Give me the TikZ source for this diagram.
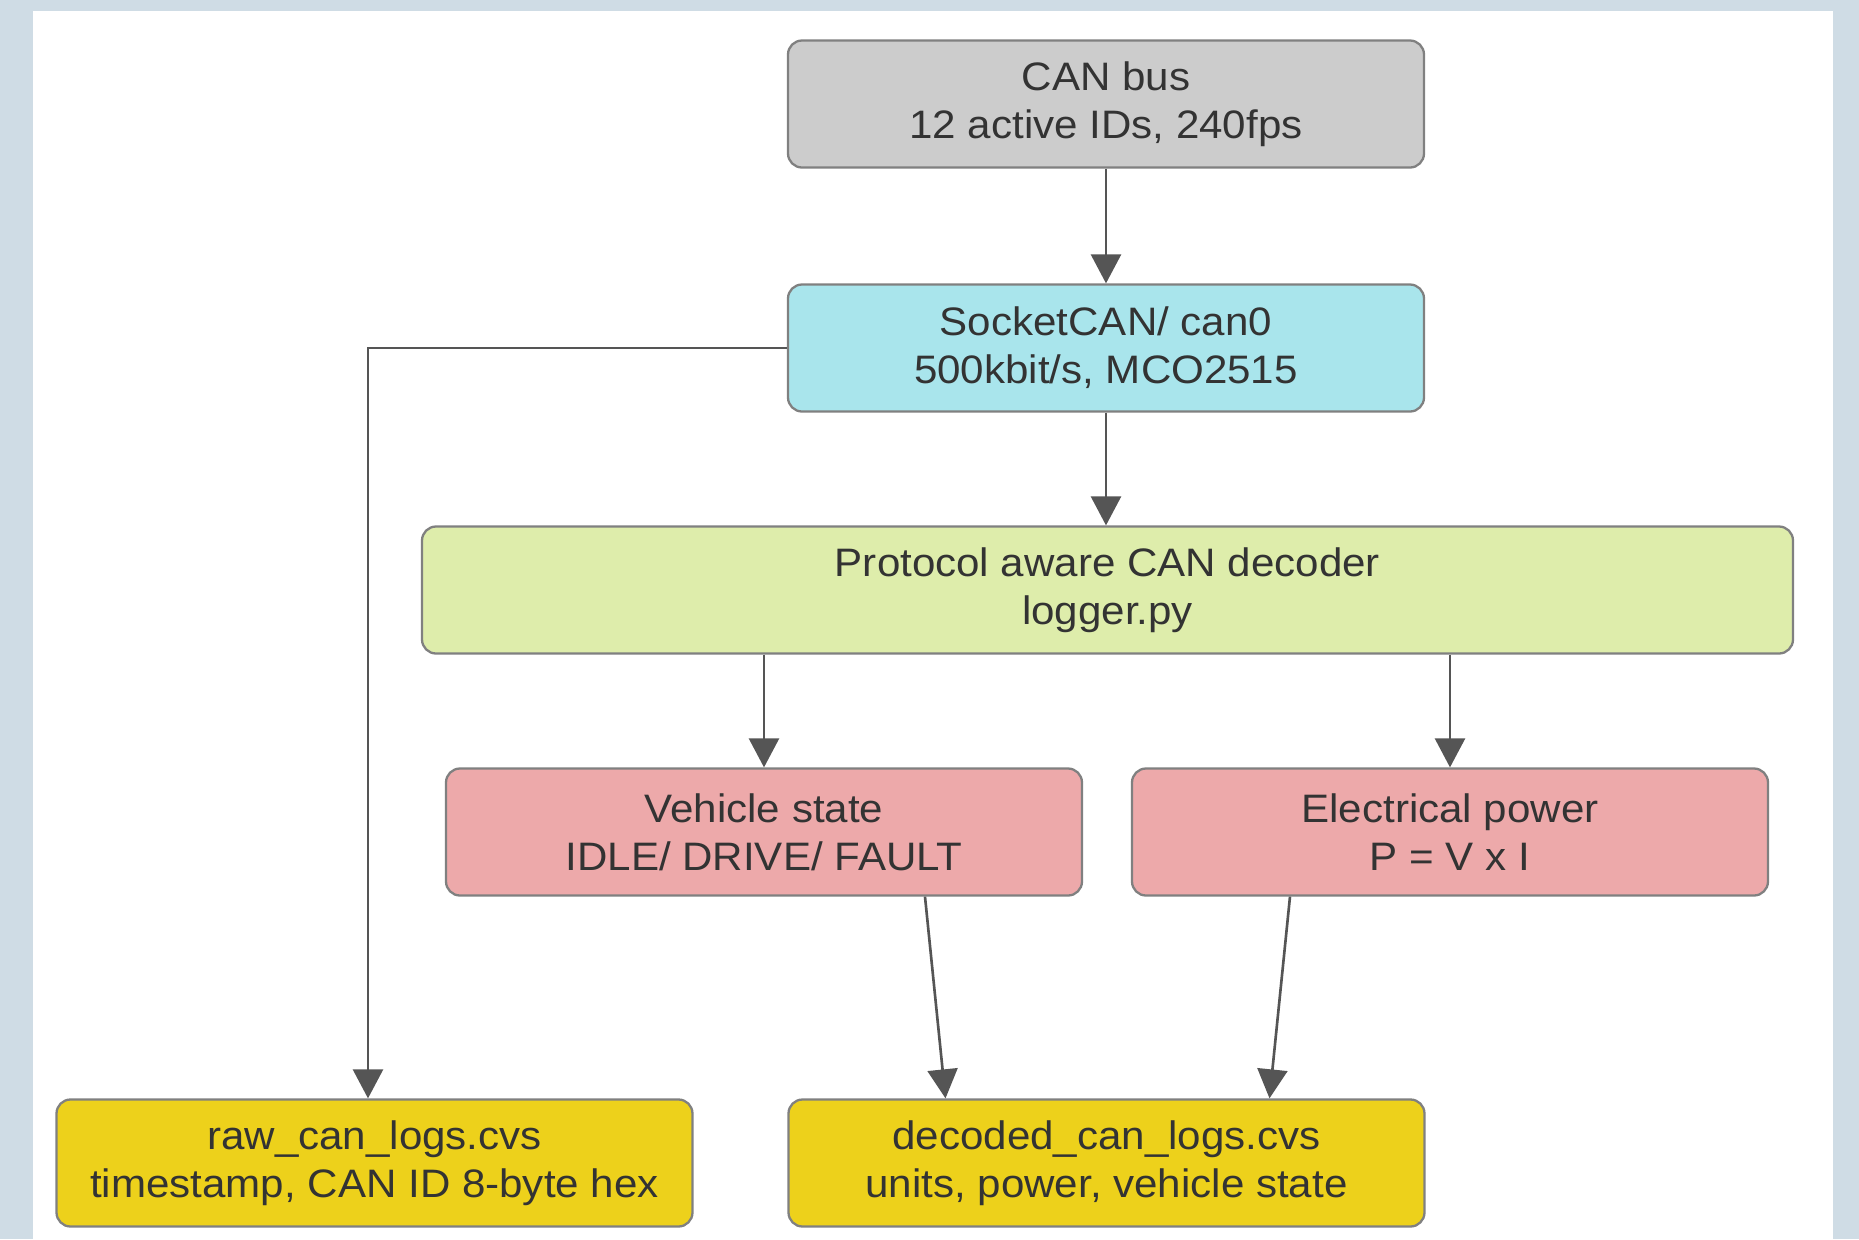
\documentclass[tikz,border=0pt]{standalone}
\usepackage{fontspec}
\setmainfont[FakeStretch=1.06]{Liberation Sans}
\usetikzlibrary{arrows.meta}

\definecolor{pagebg}{HTML}{CFDCE5}
\definecolor{busgray}{HTML}{CCCCCC}
\definecolor{sockcyan}{HTML}{A9E5EC}
\definecolor{declime}{HTML}{DEEDAB}
\definecolor{statepink}{HTML}{EDA9AA}
\definecolor{logyellow}{HTML}{EDD11B}
\definecolor{boxline}{HTML}{808080}
\definecolor{arrowgray}{HTML}{555555}
\definecolor{txt}{HTML}{333333}

\tikzset{
  box/.style={draw=boxline, line width=0.65pt, rounded corners=1.4mm,
    minimum width=63.6mm, minimum height=12.7mm, inner sep=0pt,
    align=center, text=txt, font=\fontsize{11.3}{13.6}\selectfont},
  flow/.style={draw=arrowgray, line width=0.75pt,
    -{Triangle[length=2.9mm,width=3mm]}}
}

\begin{document}
\begin{tikzpicture}[x=0.1mm, y=-0.1mm]
    % page and panel
    \fill[pagebg] (0,0) rectangle (1859,1239);
    \fill[white] (33,11) rectangle (1833,1239);

    \node[box, fill=busgray] (bus) at (1106,104) {CAN bus\\12 active IDs, 240fps};
    \node[box, fill=sockcyan] (sock) at (1106,348) {SocketCAN/ can0\\500kbit/s, MCO2515};
    \node[box, fill=declime, minimum width=137.1mm] (dec) at (1107.5,590) {Protocol aware CAN decoder\\logger.py};
    \node[box, fill=statepink] (state) at (764,832) {Vehicle state\\IDLE/ DRIVE/ FAULT};
    \node[box, fill=statepink] (power) at (1450,832) {Electrical power\\P = V x I};
    \node[box, fill=logyellow] (raw) at (374.5,1163) {raw\_can\_logs.cvs\\timestamp, CAN ID 8-byte hex};
    \node[box, fill=logyellow] (decoded) at (1106.5,1163) {decoded\_can\_logs.cvs\\units, power, vehicle state};

    \coordinate (rawbend) at (368,348);

    \draw[flow] (bus) -- (sock);
    \draw[flow] (sock) -- (sock |- dec.north);
    \draw[flow] (sock.west) -- (rawbend) -- (rawbend |- raw.north);
    \draw[flow] (dec.south -| state) -- (state);
    \draw[flow] (dec.south -| power) -- (power);
    \draw[flow] ([xshift=16.1mm]state.south) -- ([xshift=-16.1mm]decoded.north);
    \draw[flow] ([xshift=-16mm]power.south) -- ([xshift=16.3mm]decoded.north);
\end{tikzpicture}
\end{document}
